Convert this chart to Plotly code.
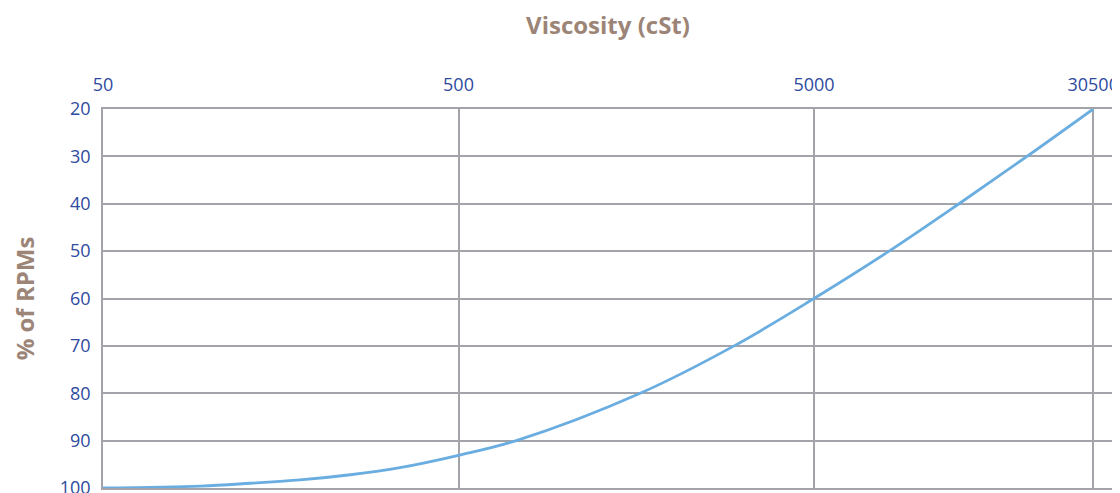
import plotly.graph_objects as go

# Data
viscosity_cst = [50, 94, 130, 179, 248, 342, 500, 727, 1622, 2980, 5000, 8130, 12790, 19860, 30500]
rpm_percent = [100, 99.6, 99.0, 98.3, 97.2, 95.7, 93.1, 90.0, 80.0, 70.0, 60.0, 50.0, 40.0, 30.0, 20.0]

x_tick_vals = [50, 500, 5000, 30500]
x_tick_text = ["50", "500", "5000", "30500"]
y_tick_vals = [20, 30, 40, 50, 60, 70, 80, 90, 100]

tick_color = "#2e4a9e"
title_color = "#9c8577"
grid_color = "#a3a3aa"

fig = go.Figure()
fig.add_trace(go.Scatter(
    x=viscosity_cst, y=rpm_percent, mode="lines",
    line=dict(color="#6aade0", width=2.8, shape="spline", smoothing=1.0),
    showlegend=False,
))

# the page body adds an 8px offset, so margins compensate for it
fig.update_layout(
    width=1120, height=493,
    margin=dict(l=95, r=15, t=101, b=13),
    paper_bgcolor="white", plot_bgcolor="white",
    font=dict(family="Open Sans", size=18, color=tick_color),
)

fig.update_xaxes(
    type="log", side="top", automargin=False,
    range=[1.69897, 4.540],
    tickvals=x_tick_vals, ticktext=x_tick_text,
    tickfont=dict(size=18, color=tick_color),
    ticks="", ticklabelstandoff=9,
    showgrid=True, gridcolor=grid_color, gridwidth=1.5,
    showline=True, linecolor=grid_color, linewidth=1.5, mirror=True,
    zeroline=False,
    title=dict(text="<b>Viscosity (cSt)</b>", font=dict(size=24, color=title_color), standoff=34),
)

fig.update_yaxes(
    range=[100, 20], automargin=False,
    tickvals=y_tick_vals,
    tickfont=dict(size=18, color=tick_color),
    ticks="", ticklabelstandoff=7,
    showgrid=True, gridcolor=grid_color, gridwidth=1.5,
    showline=True, linecolor=grid_color, linewidth=1.5, mirror=True,
    zeroline=False,
    title=dict(text="<b>% of RPMs</b>", font=dict(size=24, color=title_color), standoff=34),
)

fig.write_html("out.html")
